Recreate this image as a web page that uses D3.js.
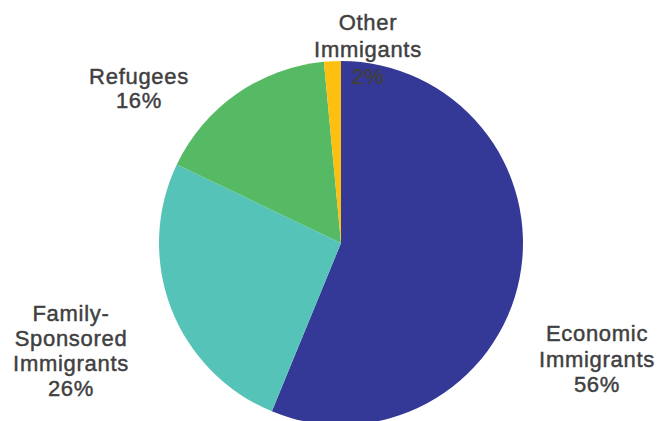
<!DOCTYPE html>
<html>
<head>
<meta charset="utf-8">
<script src="https://cdn.jsdelivr.net/npm/d3@7"></script>
<style>
  body { margin: 0; background: #fff; }
  svg { display: block; }
  .label {
    font-family: "Liberation Sans", Arial, sans-serif; font-size: 22px;
    letter-spacing: 0.7px; fill: #404040; stroke: #404040; stroke-width: 0.45px;
  }
</style>
</head>
<body>
<div id="chart"></div>
<script>
// slice values (percent)
const categories = ["Economic Immigrants", "Family-Sponsored Immigrants", "Refugees", "Other Immigants"]
const values = [56.2, 25.9, 16.4, 1.5]
const labelLines = [
    ["Economic", "Immigrants", "56%"],
    ["Family-", "Sponsored", "Immigrants", "26%"],
    ["Refugees", "16%"],
    ["Other", "Immigants", "2%"]
]
const colors = ["#343896", "#55c3b8", "#55ba63", "#fdc010"]

// where each label block sits (centre x, first baseline, line gap)
const labelPos = [[597, 341, 25.5], [71, 321, 25], [139, 84, 24], [368, 30, 27]]

const width = 657, height = 421
const cx = 341, cy = 243, radius = 182

const svg = d3.select('#chart').append('svg')
    .attr('width', width)
    .attr('height', height)

const pie = d3.pie().sort(null).value(d => d)
const arc = d3.arc().innerRadius(0).outerRadius(radius)

svg.append('g')
    .attr('transform', `translate(${cx},${cy})`)
    .selectAll('path')
    .data(pie(values))
    .enter()
    .append('path')
    .attr('d', arc)
    .attr('fill', (d, i) => colors[i])

const labels = svg.append('g')
    .selectAll('text')
    .data(categories)
    .enter()
    .append('text')
    .classed('label', true)
    .attr('text-anchor', 'middle')
    .attr('x', (d, i) => labelPos[i][0])
    .attr('y', (d, i) => labelPos[i][1])

labels.selectAll('tspan')
    .data((d, i) => labelLines[i].map(t => ({ t: t, x: labelPos[i][0], gap: labelPos[i][2] })))
    .enter()
    .append('tspan')
    .attr('x', d => d.x)
    .attr('dy', (d, j) => j === 0 ? 0 : d.gap)
    .text(d => d.t)
</script>
</body>
</html>
